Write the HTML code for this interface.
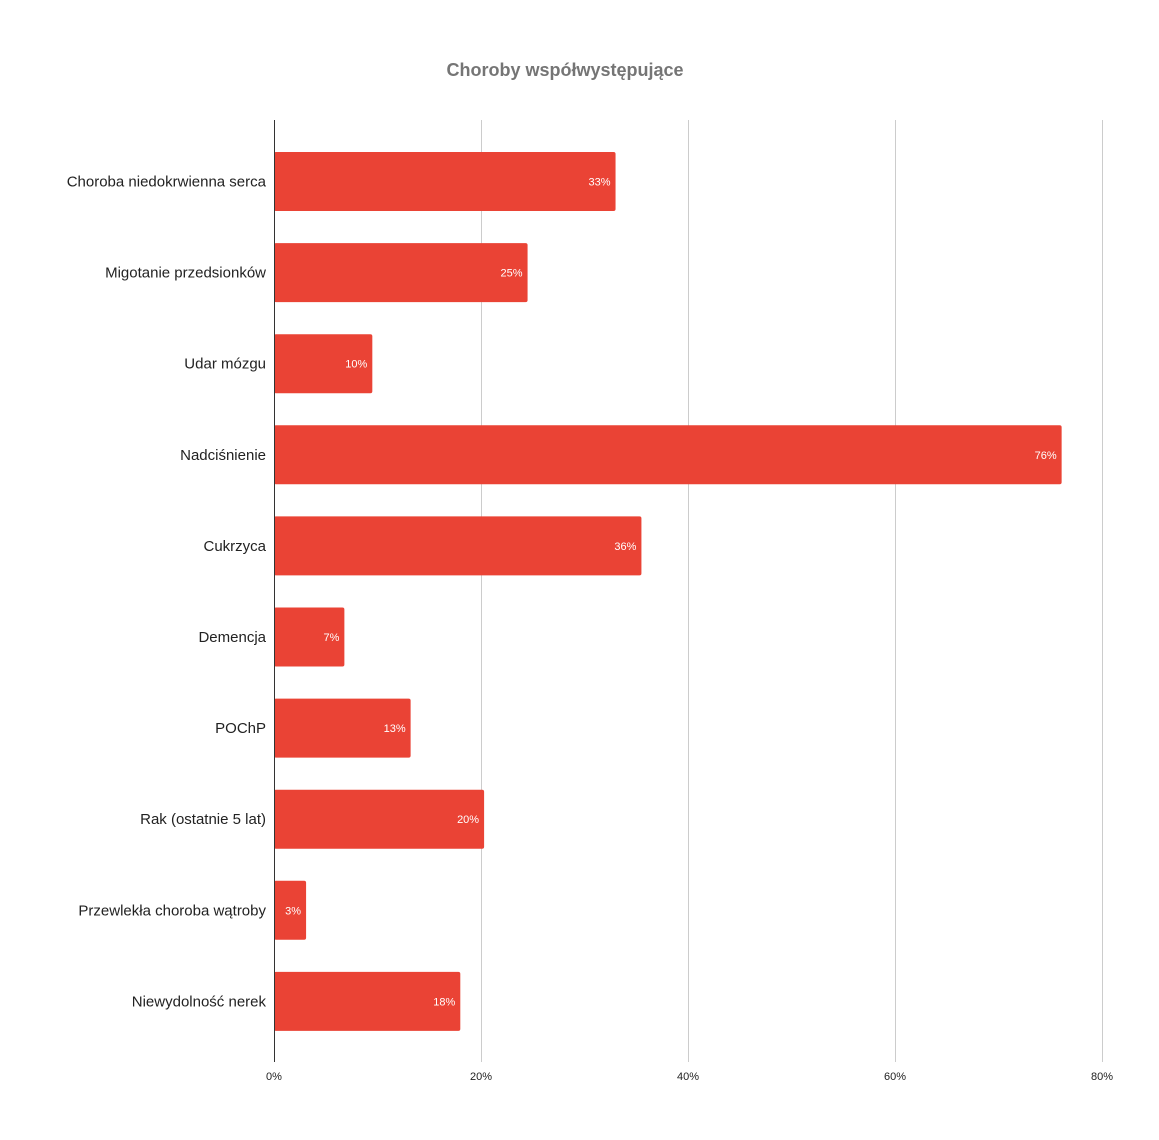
<!DOCTYPE html>
<html><head><meta charset="utf-8"><style>
body{margin:0;background:#fff;font-family:"Liberation Sans",Roboto,sans-serif}
</style></head><body>
<svg id="c" width="1159" height="1140" style="display:block">
<rect width="1159" height="1140" fill="#fff"/>
<text x="565" y="76" text-anchor="middle" font-size="18" font-weight="bold" fill="#757575">Choroby współwystępujące</text>
<g id="grid"></g><g id="bars"></g>
<line x1="274.5" y1="120" x2="274.5" y2="1062" stroke="#333" stroke-width="1"/>
</svg>
<script>
const categories=["Choroba niedokrwienna serca","Migotanie przedsionków","Udar mózgu","Nadciśnienie","Cukrzyca","Demencja","POChP","Rak (ostatnie 5 lat)","Przewlekła choroba wątroby","Niewydolność nerek"];
const values=[33,24.5,9.5,76.1,35.5,6.8,13.2,20.3,3.1,18];
const valueLabels=["33%","25%","10%","76%","36%","7%","13%","20%","3%","18%"];
const ticks=[0,20,40,60,80];
const tickLabels=["0%","20%","40%","60%","80%"];
const NS="http://www.w3.org/2000/svg";
const x=v=>274+v*(1102-274)/80;
const y=i=>152+i*91.1;
const bh=59;
function mk(t,a,p){const e=document.createElementNS(NS,t);for(const k in a)e.setAttribute(k,a[k]);p.appendChild(e);return e;}
const g=document.getElementById('grid'),b=document.getElementById('bars');
ticks.forEach((t,i)=>{
 if(t>0){const l=mk('line',{x1:x(t)+.5,x2:x(t)+.5,y1:120,y2:1062,stroke:'#ccc'},g);
 
 }
 const tx=mk('text',{x:x(t),y:1080,'text-anchor':'middle','font-size':11,fill:'#222'},g);
 tx.textContent=tickLabels[i];
 
 
});
categories.forEach((c,i)=>{
 const r=mk('rect',{x:274,y:y(i),width:x(values[i])-274,height:bh,fill:'#ea4335',rx:2},b);
 
 
 const v=mk('text',{x:x(values[i])-5,y:y(i)+bh/2+4,'text-anchor':'end','font-size':11,fill:'#fff'},b);
 v.textContent=valueLabels[i];
 
 
 const l=mk('text',{x:266,y:y(i)+bh/2+5,'text-anchor':'end','font-size':15,fill:'#222'},b);
 l.textContent=c;
 
 
});
</script>
</body></html>
